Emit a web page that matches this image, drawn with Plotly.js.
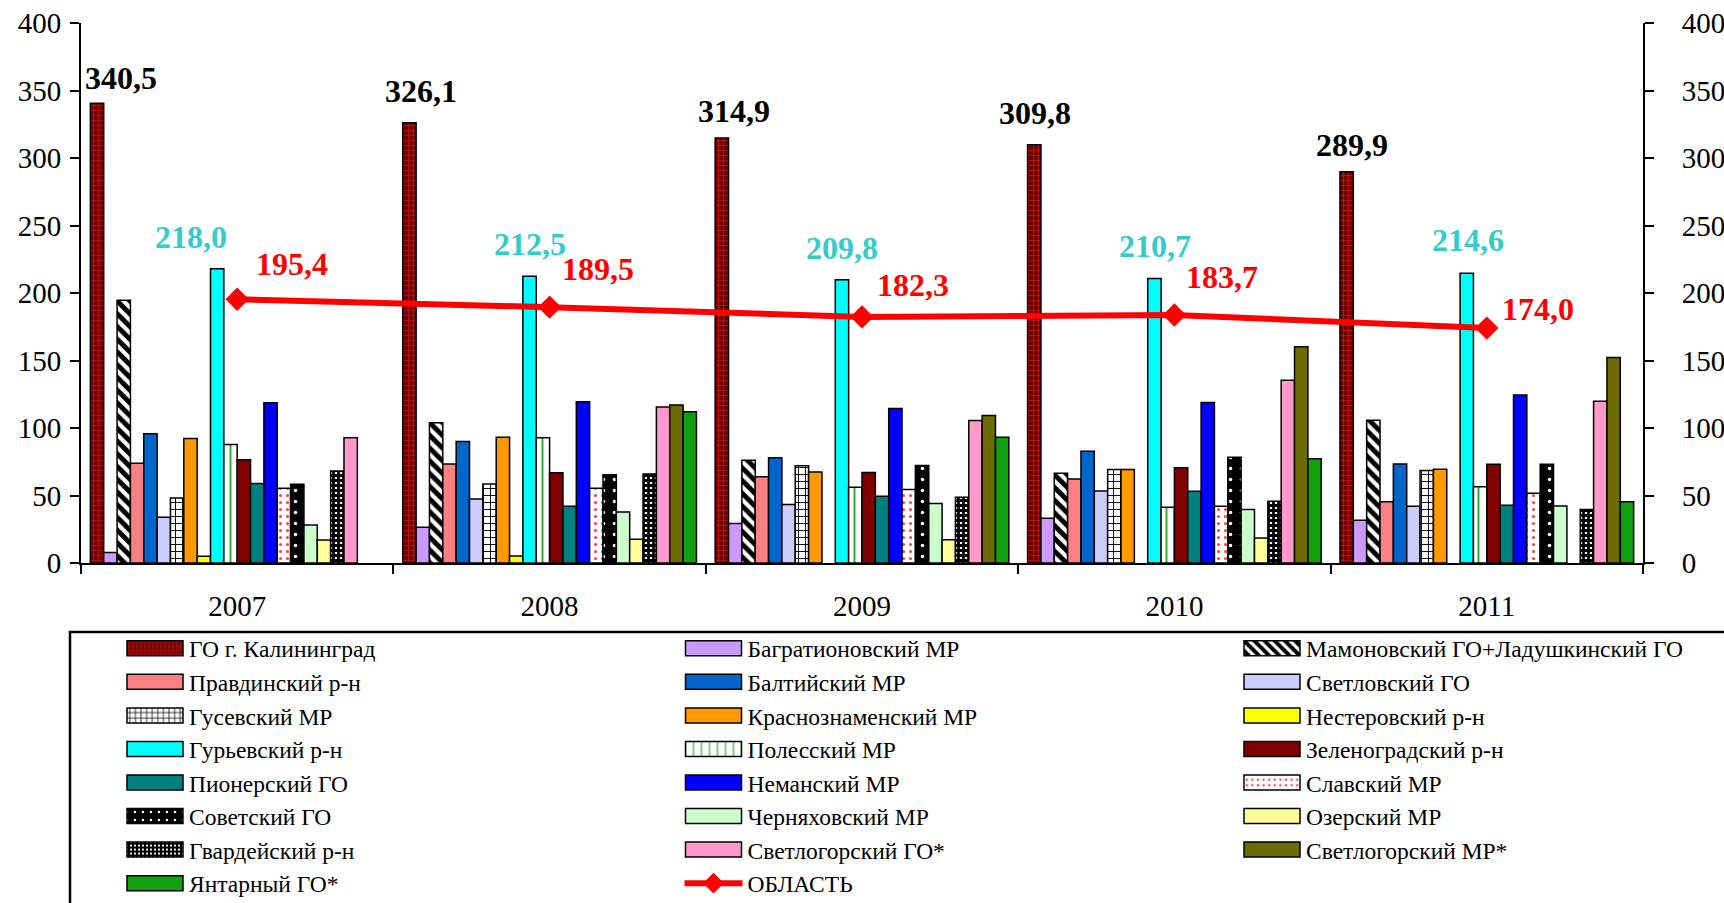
<!DOCTYPE html>
<html>
<head>
<meta charset="utf-8">
<script src="https://cdn.plot.ly/plotly-3.0.1.min.js"></script>
<style>
html,body{margin:0;padding:0;background:#fff;}
#chart{width:1724px;height:903px;}
</style>
</head>
<body>
<div id="chart"></div>
<script>
// ---------- DATA ----------
const years = ['2007', '2008', '2009', '2010', '2011'];

const kaliningrad     = [340.5, 326.1, 314.9, 309.8, 289.9];
const bagrationovsky  = [7.7, 26.5, 29.2, 33.1, 31.7];
const mamonovsky      = [194.6, 103.9, 76.2, 66.5, 105.8];
const pravdinsky      = [73.9, 73.4, 63.8, 62.3, 45.3];
const baltiysky       = [95.7, 90.0, 77.9, 82.8, 73.4];
const svetlovsky      = [33.9, 47.5, 43.3, 53.4, 42.0];
const gusevsky        = [48.2, 58.6, 72.0, 69.2, 68.5];
const krasnoznamensky = [92.2, 93.2, 67.5, 69.2, 69.5];
const nesterovsky     = [5.0, 5.2, null, null, null];
const guryevsky       = [218.0, 212.5, 209.8, 210.7, 214.6];
const polessky        = [87.8, 92.7, 56.1, 41.3, 56.4];
const zelenogradsky   = [76.4, 66.8, 67.0, 70.5, 73.2];
const pionersky       = [58.9, 42.0, 49.5, 53.2, 42.8];
const nemansky        = [118.7, 119.4, 114.5, 118.9, 124.4];
const slavsky         = [55.4, 55.4, 54.4, 42.0, 51.7];
const sovetsky        = [58.4, 65.3, 72.2, 78.4, 73.2];
const chernyakhovsky  = [28.2, 37.8, 44.0, 39.6, 42.3];
const ozersky         = [17.1, 17.6, 17.3, 18.5, null];
const gvardeysky      = [68.2, 66.0, 48.7, 45.7, 39.6];
const svetlogorskGO   = [92.7, 115.5, 105.6, 135.3, 119.9];
const svetlogorskMR   = [null, 117.0, 109.3, 160.2, 152.3];
const yantarny        = [null, 112.0, 93.2, 77.2, 45.3];
const oblast          = [195.4, 189.5, 182.3, 183.7, 174.0];

const seriesNames = [
  'ГО г. Калининград', 'Багратионовский МР', 'Мамоновский ГО+Ладушкинский ГО',
  'Правдинский р-н', 'Балтийский МР', 'Светловский ГО',
  'Гусевский МР', 'Краснознаменский МР', 'Нестеровский р-н',
  'Гурьевский р-н', 'Полесский МР', 'Зеленоградский р-н',
  'Пионерский ГО', 'Неманский МР', 'Славский МР',
  'Советский ГО', 'Черняховский МР', 'Озерский МР',
  'Гвардейский р-н', 'Светлогорский ГО*', 'Светлогорский МР*',
  'Янтарный ГО*'
];
const lineName = 'ОБЛАСТЬ';
const seriesValues = [
  kaliningrad, bagrationovsky, mamonovsky, pravdinsky, baltiysky, svetlovsky,
  gusevsky, krasnoznamensky, nesterovsky, guryevsky, polessky, zelenogradsky,
  pionersky, nemansky, slavsky, sovetsky, chernyakhovsky, ozersky,
  gvardeysky, svetlogorskGO, svetlogorskMR, yantarny
];

// ---------- STYLES ----------
const seriesStyles = [
  {color: '#8A0000', pattern: {shape: '+', fgcolor: '#D81818', bgcolor: '#6E0000', size: 5, solidity: 0.25}},
  {color: '#CC99FF'},
  {color: '#FFFFFF', pattern: {shape: '\\', fgcolor: '#000000', bgcolor: '#FFFFFF', size: 9, solidity: 0.55}},
  {color: '#FF8080'},
  {color: '#0066CC'},
  {color: '#CCCCFF'},
  {color: '#FFFFFF', pattern: {shape: '+', fgcolor: '#000000', bgcolor: '#FFFFFF', size: 7, solidity: 0.25}},
  {color: '#FF9900'},
  {color: '#FFFF00'},
  {color: '#00FFFF'},
  {color: '#FFFFFF', pattern: {shape: '|', fgcolor: '#33AA33', bgcolor: '#FFFFFF', size: 13, solidity: 0.15}},
  {color: '#800000'},
  {color: '#008080'},
  {color: '#0000FF'},
  {color: '#FFFFFF', pattern: {shape: '.', fgcolor: '#FF4040', bgcolor: '#FFFFFF', size: 7, solidity: 0.15}},
  {color: '#000000', pattern: {shape: '.', fgcolor: '#FFFFFF', bgcolor: '#000000', size: 11, solidity: 0.08}},
  {color: '#CCFFCC'},
  {color: '#FFFF99'},
  {color: '#000000', pattern: {shape: '+', fgcolor: '#000000', bgcolor: '#FFFFFF', size: 5, solidity: 0.8}},
  {color: '#FF99CC'},
  {color: '#6B6B00'},
  {color: '#10A010'}
];

const FONT = 'Liberation Serif, Times New Roman, serif';
const legendIds = ['legend', 'legend2', 'legend3'];

const traces = seriesValues.map((vals, i) => {
  const st = seriesStyles[i];
  const marker = {color: st.color, line: {color: '#000000', width: 1.5}};
  if (st.pattern) marker.pattern = Object.assign({fillmode: 'replace'}, st.pattern);
  return {
    type: 'bar', x: years, y: vals, name: seriesNames[i],
    legend: legendIds[i % 3], legendgroup: 'g' + i,
    marker: marker, hoverinfo: 'name+y'
  };
});
traces.push({
  type: 'scatter', mode: 'lines+markers', x: years, y: oblast, name: lineName,
  yaxis: 'y2', legend: legendIds[seriesValues.length % 3], legendgroup: 'gline',
  line: {color: '#FF0000', width: 6},
  marker: {symbol: 'diamond', size: 18, color: '#FF0000'}
});

// ---------- LABEL OFFSETS (pixels) ----------
const kalDx = [-116, -129, -128, -139, -135];
const kalDy = [25, 32, 27, 32, 27];
const guryDx = [-46, -20, -20, -19, -19];
const guryDy = [32, 32, 32, 33, 33];
const oblDx = [55, 48, 51, 48, 51];
const oblDy = [35, 38, 32, 38, 19];

const fmt = v => v.toFixed(1).replace('.', ',');
const LBL = 32;
const annotations = [];
years.forEach((yr, k) => {
  // x given as category index k (position of category years[k])
  annotations.push({x: k, y: kaliningrad[k], xref: 'x', yref: 'y', text: '<b>' + fmt(kaliningrad[k]) + '</b>',
    showarrow: false, xshift: kalDx[k], yshift: kalDy[k], font: {family: FONT, size: LBL, color: '#000000'}});
  annotations.push({x: k, y: guryevsky[k], xref: 'x', yref: 'y', text: '<b>' + fmt(guryevsky[k]) + '</b>',
    showarrow: false, xshift: guryDx[k], yshift: guryDy[k], font: {family: FONT, size: LBL, color: '#33CCCC'}});
  annotations.push({x: k, y: oblast[k], xref: 'x', yref: 'y', text: '<b>' + fmt(oblast[k]) + '</b>',
    showarrow: false, xshift: oblDx[k], yshift: oblDy[k], font: {family: FONT, size: LBL, color: '#FF0000'}});
});

// ---------- LAYOUT ----------
const W = 1724, H = 903, ML = 81, MR = 81, MT = 23, MB = 340;
const plotW = W - ML - MR, plotH = H - MT - MB;
const px2paperX = px => (px - ML) / plotW;
const px2paperY = py => (H - MB - py) / plotH;

const yBase = {
  range: [0, 400], autorange: false, tick0: 0, dtick: 50, showgrid: false, zeroline: false,
  tickcolor: '#000000', tickwidth: 2, ticklen: 9, fixedrange: true
};
const tickFont = {family: FONT, size: 29, color: '#000000'};

const legendBase = {
  xanchor: 'left', yanchor: 'top',
  y: px2paperY(626.5), orientation: 'v', bgcolor: 'rgba(0,0,0,0)', borderwidth: 0,
  font: {family: FONT, size: 23.5, color: '#000000'}, tracegroupgap: 0, itemwidth: 58
};

const layout = {
  width: W, height: H,
  margin: {l: ML, r: MR, t: MT, b: MB, pad: 0, autoexpand: false},
  paper_bgcolor: '#FFFFFF', plot_bgcolor: '#FFFFFF',
  barmode: 'group', bargap: 0.06, bargroupgap: 0,
  font: {family: FONT, color: '#000000'},
  showlegend: true,
  xaxis: {
    type: 'category', categoryorder: 'array', categoryarray: years,
    range: [-0.5, years.length - 0.5], autorange: false,
    tickson: 'boundaries', ticks: 'outside', ticklen: 9, tickwidth: 2,
    tickcolor: '#000000', showline: true, linewidth: 2, linecolor: '#000000', tickangle: 0,
    showgrid: false, zeroline: false, tickfont: tickFont, ticklabelstandoff: 16, fixedrange: true
  },
  yaxis: Object.assign({}, yBase, {side: 'left', ticks: 'outside', showline: true, linewidth: 2,
    linecolor: '#000000', tickfont: tickFont, ticklabelstandoff: 3}),
  yaxis2: Object.assign({}, yBase, {side: 'right', overlaying: 'y', anchor: 'x', ticks: 'outside',
    showline: true, linewidth: 2, linecolor: '#000000', tickfont: tickFont, ticklabelstandoff: 22}),
  yaxis3: Object.assign({}, yBase, {side: 'left', overlaying: 'y', anchor: 'x', ticks: 'inside',
    showline: false, showticklabels: false}),
  yaxis4: Object.assign({}, yBase, {side: 'right', overlaying: 'y', anchor: 'x', ticks: 'inside',
    showline: false, showticklabels: false}),
  legend: Object.assign({}, legendBase, {x: px2paperX(121)}),
  legend2: Object.assign({}, legendBase, {x: px2paperX(679.5)}),
  legend3: Object.assign({}, legendBase, {x: px2paperX(1238)}),
  shapes: [{
    type: 'rect', xref: 'paper', yref: 'paper',
    x0: px2paperX(70), x1: px2paperX(1740), y0: px2paperY(632), y1: px2paperY(920),
    line: {color: '#000000', width: 2.5}, fillcolor: 'rgba(0,0,0,0)'
  }],
  annotations: annotations
};

// widen the bar swatches in the legend to the wide rectangles of the original
function widenSwatches() {
  document.querySelectorAll('g.legendpoints path').forEach(p => {
    const d = (p.getAttribute('d') || '').replace(/\s/g, '');
    if (p.classList.contains('legendbar') || d === 'M6,6H-6V-6H6Z') {
      p.setAttribute('d', 'M28,7.5H-28V-7.5H28Z');
    }
  });
}

Plotly.newPlot('chart', traces, layout, {displayModeBar: false, staticPlot: true}).then(gd => {
  widenSwatches();
  gd.on && gd.on('plotly_afterplot', widenSwatches);
  setTimeout(widenSwatches, 0);
  setTimeout(widenSwatches, 300);
});
</script>
</body>
</html>
